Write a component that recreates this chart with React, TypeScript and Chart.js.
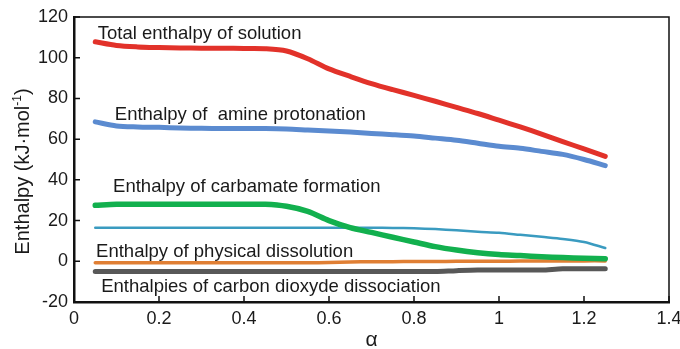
import React, { useEffect, useRef } from "react";
import { Chart, registerables } from "chart.js";

Chart.register(...registerables);

const alpha = [0.05, 0.1, 0.15, 0.2, 0.25, 0.3, 0.35, 0.4, 0.45, 0.5, 0.55, 0.6, 0.65, 0.7, 0.75, 0.8, 0.85, 0.9, 0.95, 1.0, 1.05, 1.1, 1.15, 1.2, 1.25];

const totalSolution = [107.8, 106, 105.3, 105, 104.8, 104.7, 104.7, 104.5, 104.4, 103.3, 99.5, 94.5, 90.8, 87.3, 84.3, 81.5, 78.6, 75.6, 72.6, 69.3, 66, 62.5, 58.8, 55.2, 51.5];
const amineProtonation = [68.5, 66.5, 66, 65.8, 65.5, 65.3, 65.2, 65.2, 65.2, 65, 64.5, 64, 63.5, 62.8, 62.2, 61.5, 60.5, 59.5, 58, 56.5, 55.5, 54, 52.5, 50, 47];
const carbamateFormation = [27.5, 28, 28, 28, 28, 28, 28, 28, 28, 27, 24.5, 20, 16.5, 14.2, 11.8, 9.5, 7.2, 5.5, 4.2, 3.3, 2.8, 2.2, 1.8, 1.5, 1.3];
const thinTeal = [16.5, 16.5, 16.5, 16.5, 16.5, 16.5, 16.5, 16.5, 16.5, 16.5, 16.5, 16.5, 16.5, 16.5, 16.4, 16.2, 15.8, 15.2, 14.5, 14, 13, 12, 11, 9.5, 6.5];
const physicalDissolution = [-0.7, -0.7, -0.7, -0.7, -0.7, -0.7, -0.7, -0.7, -0.7, -0.7, -0.7, -0.6, -0.3, -0.2, -0.2, -0.1, -0.1, 0, 0, 0, 0.1, 0.1, 0.1, 0.2, 0.2];
const co2Dissociation = [-5, -5, -5, -5, -5, -5, -5, -5, -5, -5, -5, -5, -5, -5, -5, -5, -5, -4.6, -4.3, -4.3, -4.3, -4.3, -3.7, -3.7, -3.7];

const xTicks = [0, 0.2, 0.4, 0.6, 0.8, 1, 1.2, 1.4];
const xTickLabels = ["0", "0.2", "0.4", "0.6", "0.8", "1", "1.2", "1.4"];
const yTicks = [-20, 0, 20, 40, 60, 80, 100, 120];
const yTickLabels = ["-20", "0", "20", "40", "60", "80", "100", "120"];

const annotations = [
  { text: "Total enthalpy of solution", x: 0.056, y: 109 },
  { text: "Enthalpy of  amine protonation", x: 0.096, y: 69.4 },
  { text: "Enthalpy of carbamate formation", x: 0.092, y: 33.8 },
  { text: "Enthalpy of physical dissolution", x: 0.052, y: 2 },
  { text: "Enthalpies of carbon dioxyde dissociation", x: 0.064, y: -15.2 },
];

const FONT = "'Liberation Sans', Arial, Helvetica, sans-serif";

const decor = {
  id: "decor",
  afterDraw(chart: any) {
    const { ctx, chartArea: a, scales } = chart;
    const x = scales.x;
    const y = scales.y;
    ctx.save();
    ctx.strokeStyle = "#111";
    ctx.lineWidth = 1.5;
    ctx.beginPath();
    ctx.moveTo(a.left, a.top);
    ctx.lineTo(a.right, a.top);
    ctx.lineTo(a.right, a.bottom);
    ctx.stroke();
    ctx.lineWidth = 1.5;
    ctx.beginPath();
    x.ticks.forEach((_: any, i: number) => {
      const px = x.getPixelForTick(i);
      ctx.moveTo(px, a.bottom);
      ctx.lineTo(px, a.bottom - 6);
    });
    y.ticks.forEach((_: any, i: number) => {
      const py = y.getPixelForTick(i);
      ctx.moveTo(a.left, py);
      ctx.lineTo(a.left + 6, py);
    });
    ctx.stroke();

    ctx.fillStyle = "#1a1a1a";
    ctx.font = `18.5px ${FONT}`;
    ctx.textBaseline = "alphabetic";
    ctx.textAlign = "left";
    annotations.forEach((l) => {
      ctx.fillText(l.text, x.getPixelForValue(l.x), y.getPixelForValue(l.y));
    });

    // x title
    ctx.font = `21px ${FONT}`;
    ctx.textAlign = "center";
    ctx.fillText("α", (a.left + a.right) / 2, 346);

    // y title with superscript
    ctx.save();
    ctx.translate(29, (a.top + a.bottom) / 2 + 12);
    ctx.rotate(-Math.PI / 2);
    ctx.textAlign = "left";
    const main = "Enthalpy (kJ·mol";
    const sup = "-1";
    const end = ")";
    ctx.font = `20px ${FONT}`;
    const w1 = ctx.measureText(main).width;
    const w3 = ctx.measureText(end).width;
    ctx.font = `12px ${FONT}`;
    const w2 = ctx.measureText(sup).width;
    const total = w1 + w2 + w3;
    let cx = -total / 2;
    ctx.font = `20px ${FONT}`;
    ctx.fillText(main, cx, 0);
    cx += w1;
    ctx.font = `12px ${FONT}`;
    ctx.fillText(sup, cx, -8);
    cx += w2;
    ctx.font = `20px ${FONT}`;
    ctx.fillText(end, cx, 0);
    ctx.restore();
    ctx.restore();
  },
};

function series(values: number[]) {
  return alpha.map((a, i) => ({ x: a, y: values[i] }));
}

export default function App() {
  const ref = useRef<HTMLCanvasElement>(null);
  useEffect(() => {
    if (!ref.current) return;
    const mk = (label: string, values: number[], color: string, width: number) => ({
      label,
      data: series(values),
      borderColor: color,
      backgroundColor: color,
      borderWidth: width,
      pointRadius: 0,
      tension: 0.3,
      borderCapStyle: "round" as const,
      borderJoinStyle: "round" as const,
      fill: false,
    });
    const chart = new Chart(ref.current, {
      type: "line",
      data: {
        datasets: [
          mk("Total enthalpy of solution", totalSolution, "#e2322a", 5),
          mk("Enthalpy of amine protonation", amineProtonation, "#5b8bd0", 5),
          mk("Enthalpy of carbamate formation", carbamateFormation, "#12b04e", 5.5),
          mk("Enthalpy of physical dissolution", physicalDissolution, "#e07f34", 3.5),
          mk("Other", thinTeal, "#3a9bc0", 2.5),
          mk("Enthalpies of carbon dioxyde dissociation", co2Dissociation, "#585858", 5),
        ],
      },
      plugins: [decor],
      options: {
        animation: false,
        responsive: true,
        maintainAspectRatio: false,
        layout: { padding: { left: 0, top: 17, right: 11, bottom: 0 } },
        plugins: { legend: { display: false }, tooltip: { enabled: false } },
        scales: {
          x: {
            type: "linear",
            min: 0,
            max: 1.4,
            afterFit: (s: any) => { s.height = 47; s.paddingLeft = 0; s.paddingRight = 0; },
            afterBuildTicks: (s: any) => { s.ticks = xTicks.map((v) => ({ value: v })); },
            grid: { display: false, drawTicks: false },
            border: { display: true, width: 2.5, color: "#111" },
            ticks: {
              color: "#1a1a1a",
              font: { size: 18, family: FONT },
              padding: 6,
              callback: (_v: any, i: number) => xTickLabels[i],
            },
          },
          y: {
            type: "linear",
            min: -20,
            max: 120,
            afterFit: (s: any) => { s.width = 74; s.paddingTop = 0; s.paddingBottom = 0; },
            afterBuildTicks: (s: any) => { s.ticks = yTicks.map((v) => ({ value: v })); },
            grid: { display: false, drawTicks: false },
            border: { display: true, width: 2.5, color: "#111" },
            ticks: {
              color: "#1a1a1a",
              font: { size: 18, family: FONT },
              padding: 6,
              callback: (_v: any, i: number) => yTickLabels[i],
            },
          },
        },
      },
    });
    return () => chart.destroy();
  }, []);
  return (
    <div style={{ position: "absolute", left: 0, top: 0, width: 680, height: 349, background: "#fff" }}>
      <canvas ref={ref} />
    </div>
  );
}
